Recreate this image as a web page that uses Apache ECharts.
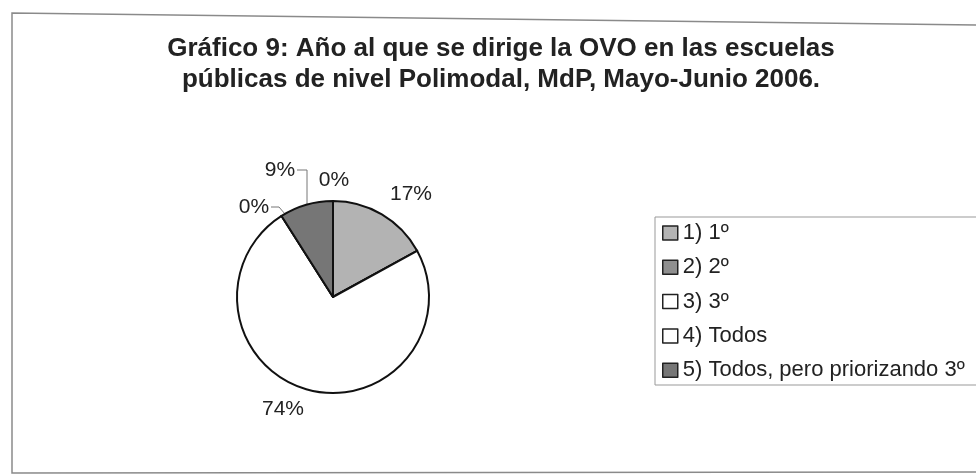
<!DOCTYPE html>
<html lang="es">
<head>
<meta charset="utf-8">
<script src="https://cdn.jsdelivr.net/npm/echarts@6/dist/echarts.min.js"></script>
<style>
  html, body { margin: 0; padding: 0; background: #fff; }
  #chart { width: 976px; height: 475px; }
</style>
</head>
<body>
<div id="chart"></div>
<script type="text/javascript">
    // datos del grafico
    var categorias = ['1) 1º', '2) 2º', '3) 3º', '4) Todos', '5) Todos, pero priorizando 3º'];
    var porcentajes = [17, 0, 74, 0, 9];
    var colores = ['#b3b3b3', '#8f8f8f', '#ffffff', '#ffffff', '#767676'];
    var titulo = 'Gráfico 9: Año al que se dirige la OVO en las escuelas\npúblicas de nivel Polimodal, MdP, Mayo-Junio 2006.';

    // donde van las etiquetas (movidas a mano en el original)
    var etiquetas = [
        { x: 411, y: 194 },
        { x: 334, y: 180 },
        { x: 283, y: 409 },
        { x: 254, y: 207, linea: [[271, 207], [279, 207], [285, 214]] },
        { x: 280, y: 170, linea: [[297, 170], [307, 170], [307, 204]] }
    ];

    var fuente = '"Liberation Sans", Arial, sans-serif';

    var datos = categorias.map(function (c, i) {
        return {
            name: c,
            value: porcentajes[i],
            itemStyle: { color: colores[i] },
            labelLine: { show: !!etiquetas[i].linea }
        };
    });

    var myChart = echarts.init(document.getElementById('chart'));

    var option = {
        backgroundColor: '#fff',
        animation: false,
        graphic: [
            {
                type: 'polyline',
                shape: { points: [[980, 25], [12, 13], [12, 473], [980, 472]] },
                style: { fill: null, stroke: '#8a8a8a', lineWidth: 1.5 },
                silent: true
            },
            {
                type: 'rect',
                shape: { x: 655, y: 217, width: 340, height: 168 },
                style: { fill: null, stroke: '#999', lineWidth: 1 },
                silent: true
            },
            {
                type: 'text',
                x: 501,
                y: 33,
                style: {
                    text: titulo,
                    font: 'bold 26px ' + fuente,
                    lineHeight: 31,
                    fill: '#222',
                    textAlign: 'center',
                    textVerticalAlign: 'top'
                },
                silent: true
            }
        ],
        legend: {
            orient: 'vertical',
            left: 662,
            top: 222,
            padding: 0,
            itemGap: 12.3,
            itemWidth: 15,
            itemHeight: 14,
            icon: 'rect',
            itemStyle: { borderColor: '#222', borderWidth: 1.5 },
            textStyle: { fontFamily: fuente, fontSize: 22, lineHeight: 22, color: '#222' },
            data: categorias
        },
        series: [{
            name: 'Año',
            type: 'pie',
            center: [333, 297],
            radius: 96,
            startAngle: 90,
            clockwise: true,
            avoidLabelOverlap: false,
            emphasis: { disabled: true },
            itemStyle: { borderColor: '#111', borderWidth: 2 },
            label: {
                show: true,
                position: 'outside',
                formatter: '{c}%',
                fontFamily: fuente,
                fontSize: 21,
                color: '#222'
            },
            labelLine: { lineStyle: { color: '#777', width: 1 } },
            labelLayout: function (params) {
                var e = etiquetas[params.dataIndex];
                var r = { x: e.x, y: e.y, align: 'center', verticalAlign: 'middle' };
                if (e.linea) r.labelLinePoints = e.linea;
                return r;
            },
            data: datos
        }]
    };

    myChart.setOption(option);
</script>
</body>
</html>
